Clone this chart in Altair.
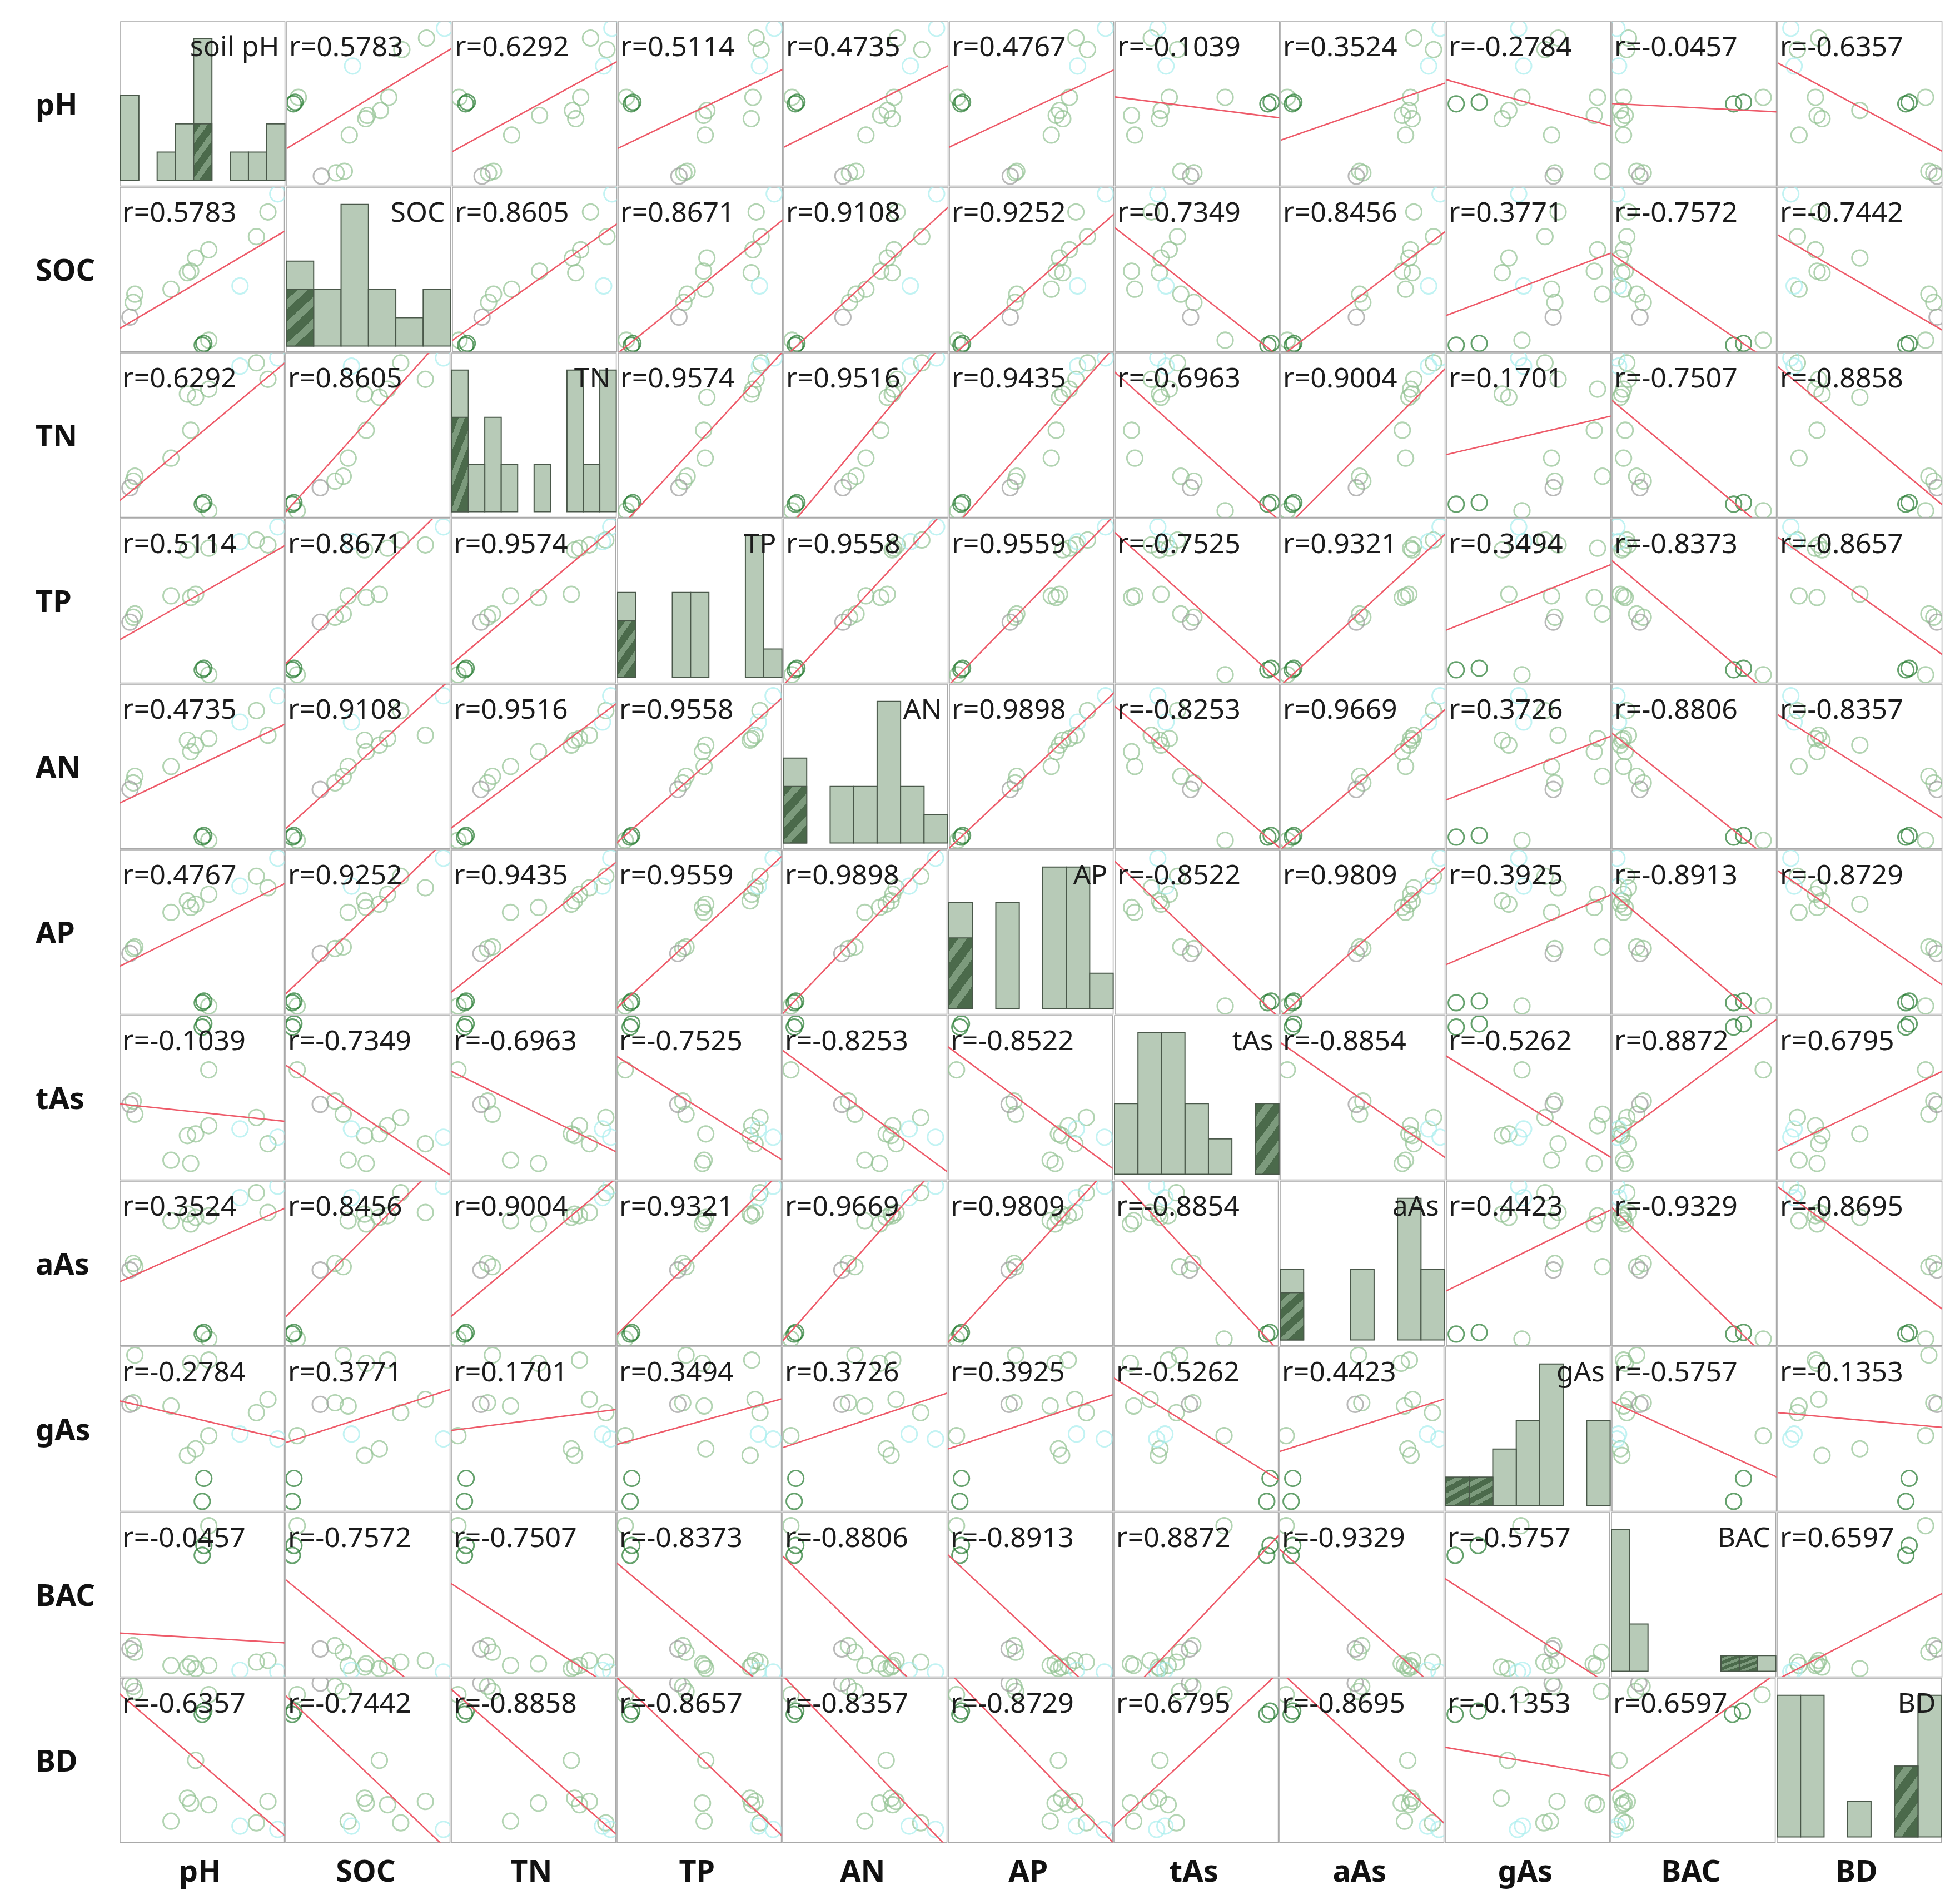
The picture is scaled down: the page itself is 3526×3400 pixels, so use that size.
import altair as alt
import pandas as pd

# ---------------- data (values read as fractions of each panel's axis range) ----------------
VARS = ["pH", "SOC", "TN", "TP", "AN", "AP", "tAs", "aAs", "gAs", "BAC", "BD"]
DIAG_LABELS = ["soil pH", "SOC", "TN", "TP", "AN", "AP", "tAs", "aAs", "gAs", "BAC", "BD"]
N_BINS = [9, 6, 10, 9, 7, 7, 7, 7, 7, 9, 7]

GROUP = ["sel", "sel", "normal", "normal", "normal", "grey", "normal", "normal",
         "normal", "normal", "normal", "cyan", "normal", "normal", "cyan"]
PH  = [0.50, 0.51, 0.54, 0.08, 0.09, 0.06, 0.31, 0.41, 0.43, 0.46, 0.54, 0.73, 0.83, 0.90, 0.96]
SOC = [0.04, 0.05, 0.07, 0.30, 0.35, 0.21, 0.38, 0.48, 0.49, 0.57, 0.62, 0.40, 0.70, 0.85, 0.96]
TN  = [0.08, 0.09, 0.04, 0.22, 0.25, 0.18, 0.36, 0.75, 0.53, 0.73, 0.78, 0.92, 0.94, 0.84, 0.97]
TP  = [0.08, 0.09, 0.05, 0.40, 0.42, 0.37, 0.53, 0.81, 0.52, 0.54, 0.82, 0.86, 0.87, 0.84, 0.95]
AN  = [0.07, 0.08, 0.05, 0.40, 0.44, 0.36, 0.50, 0.66, 0.59, 0.63, 0.67, 0.77, 0.84, 0.69, 0.93]
AP  = [0.07, 0.08, 0.05, 0.40, 0.41, 0.37, 0.62, 0.69, 0.65, 0.67, 0.73, 0.78, 0.84, 0.77, 0.95]
TAS = [0.93, 0.95, 0.67, 0.48, 0.40, 0.46, 0.12, 0.27, 0.10, 0.28, 0.33, 0.31, 0.38, 0.22, 0.26]
AAS = [0.07, 0.08, 0.04, 0.50, 0.48, 0.46, 0.76, 0.80, 0.74, 0.78, 0.79, 0.90, 0.93, 0.81, 0.97]
GAS = [0.06, 0.20, 0.46, 0.66, 0.95, 0.65, 0.64, 0.34, 0.90, 0.38, 0.92, 0.47, 0.60, 0.68, 0.44]
BAC = [0.74, 0.80, 0.92, 0.19, 0.15, 0.17, 0.07, 0.06, 0.08, 0.05, 0.07, 0.04, 0.09, 0.10, 0.03]
BD  = [0.78, 0.80, 0.90, 0.95, 0.92, 0.97, 0.13, 0.27, 0.24, 0.50, 0.23, 0.10, 0.12, 0.25, 0.08]

# correlation labels (upper triangle, row by row)
R_PH  = [0.5783, 0.6292, 0.5114, 0.4735, 0.4767, -0.1039, 0.3524, -0.2784, -0.0457, -0.6357]
R_SOC = [0.8605, 0.8671, 0.9108, 0.9252, -0.7349, 0.8456, 0.3771, -0.7572, -0.7442]
R_TN  = [0.9574, 0.9516, 0.9435, -0.6963, 0.9004, 0.1701, -0.7507, -0.8858]
R_TP  = [0.9558, 0.9559, -0.7525, 0.9321, 0.3494, -0.8373, -0.8657]
R_AN  = [0.9898, -0.8253, 0.9669, 0.3726, -0.8806, -0.8357]
R_AP  = [-0.8522, 0.9809, 0.3925, -0.8913, -0.8729]
R_TAS = [-0.8854, -0.5262, 0.8872, 0.6795]
R_AAS = [0.4423, -0.9329, -0.8695]
R_GAS = [-0.5757, -0.1353]
R_BAC = [0.6597]
R_UPPER = [R_PH, R_SOC, R_TN, R_TP, R_AN, R_AP, R_TAS, R_AAS, R_GAS, R_BAC]

# ---------------- tables ----------------
df = pd.DataFrame({"pH": PH, "SOC": SOC, "TN": TN, "TP": TP, "AN": AN, "AP": AP,
                   "tAs": TAS, "aAs": AAS, "gAs": GAS, "BAC": BAC, "BD": BD})
df["group"] = GROUP
df["sel"] = [1 if g == "sel" else 0 for g in GROUP]
RANK = {"normal": 0, "cyan": 1, "grey": 2, "sel": 3}
df["rank"] = [RANK[g] for g in GROUP]
df = df.sort_values("rank", kind="stable").reset_index(drop=True)

rrows = []
for i, row in enumerate(R_UPPER):
    for k, val in enumerate(row):
        j = i + 1 + k
        lab = "r=%.4f" % val
        rrows.append({"row": VARS[i], "col": VARS[j], "label": lab})
        rrows.append({"row": VARS[j], "col": VARS[i], "label": lab})
rdf = pd.DataFrame(rrows)
labdf = pd.DataFrame({"var": VARS, "label": DIAG_LABELS})

# ---------------- styling ----------------
SW = 1.6                # frame stroke width
W = H = 297.2 - SW      # panel size so that the pitch is ~297 px
LABEL_W = 206 - SW
FONT = "Noto Sans"
sc = alt.Scale(domain=[0, 1], nice=False, zero=False)
GROUPS = ["normal", "cyan", "grey", "sel"]
COLORS = ["#92c292", "#a8eeee", "#9c9c9c", "#237a2e"]
WIDTHS = [2.9, 2.9, 2.9, 4.4]
LIGHT = "#b7cab7"
OUTLINE = "#4a584a"
D, L = "#4b6a4b", "#7c9a7c"
offs = [0.0, 0.16, 0.30, 0.48, 0.62, 0.80, 0.94, 1.0]
stops = []
for k in range(len(offs) - 1):
    c = D if k % 2 == 0 else L
    stops.append(alt.GradientStop(color=c, offset=offs[k]))
    stops.append(alt.GradientStop(color=c, offset=offs[k + 1]))
HATCH = alt.LinearGradient(gradient="linear", stops=stops, x1=0, y1=0, x2=0.45, y2=1)


def scatter(yv, xv):
    base = alt.Chart(df)
    pts = base.mark_point(filled=False, clip=True, size=800).encode(
        x=alt.X(f"{xv}:Q", scale=sc, axis=None),
        y=alt.Y(f"{yv}:Q", scale=sc, axis=None),
        color=alt.Color("group:N", scale=alt.Scale(domain=GROUPS, range=COLORS), legend=None),
        strokeWidth=alt.StrokeWidth("group:N", scale=alt.Scale(domain=GROUPS, range=WIDTHS), legend=None),
    )
    line = base.transform_regression(xv, yv, extent=[-0.5, 1.5]).mark_line(
        clip=True, color="#ee5a69", strokeWidth=2.6
    ).encode(
        x=alt.X(f"{xv}:Q", scale=sc, axis=None),
        y=alt.Y(f"{yv}:Q", scale=sc, axis=None),
    )
    txt = alt.Chart(rdf).transform_filter(
        (alt.datum.row == yv) & (alt.datum.col == xv)
    ).mark_text(align="left", baseline="alphabetic", fontSize=50, font=FONT, color="#1c1c1c").encode(
        text="label:N", x=alt.value(4), y=alt.value(62)
    )
    return alt.layer(pts, line, txt).properties(width=W, height=H)


def histogram(v, n):
    h = alt.Chart(df).transform_calculate(
        b=f"min(floor(datum['{v}'] * {n}), {n - 1})"
    ).transform_aggregate(
        cnt="count()", nsel="sum(sel)", groupby=["b"]
    ).transform_joinaggregate(
        maxc="max(cnt)"
    ).transform_calculate(
        x0=f"datum.b / {n}",
        x1=f"(datum.b + 1) / {n}",
        y0="0.034",
        yt="0.034 + datum.cnt / datum.maxc * 0.862",
        ys="0.034 + datum.nsel / datum.maxc * 0.862",
    )
    full = h.mark_bar(fill=LIGHT, stroke=OUTLINE, strokeWidth=2).encode(
        x=alt.X("x0:Q", scale=sc, axis=None), x2="x1:Q",
        y=alt.Y("yt:Q", scale=sc, axis=None), y2="y0:Q",
    )
    hatch = h.transform_filter("datum.nsel > 0").mark_bar(
        fill=HATCH, stroke=OUTLINE, strokeWidth=2
    ).encode(
        x=alt.X("x0:Q", scale=sc, axis=None), x2="x1:Q",
        y=alt.Y("ys:Q", scale=sc, axis=None), y2="y0:Q",
    )
    lab = alt.Chart(labdf).transform_filter(alt.datum.var == v).mark_text(
        align="right", baseline="alphabetic", fontSize=50, font=FONT, color="#1c1c1c"
    ).encode(text="label:N", x=alt.value(W - 10), y=alt.value(62))
    return alt.layer(full, hatch, lab).properties(width=W, height=H)


NOFRAME = alt.ViewBackground(stroke="transparent")


def row_label(v):
    return alt.Chart(labdf).transform_filter(alt.datum.var == v).mark_text(
        align="left", baseline="alphabetic", fontSize=54, fontWeight="bold", font=FONT, color="#111111"
    ).encode(text="var:N", x=alt.value(55), y=alt.value(168)).properties(
        width=LABEL_W, height=H, view=NOFRAME
    )


def col_label(v):
    return alt.Chart(labdf).transform_filter(alt.datum.var == v).mark_text(
        align="center", baseline="alphabetic", fontSize=54, fontWeight="bold", font=FONT, color="#111111"
    ).encode(text="var:N", x=alt.value(W / 2 - 4), y=alt.value(62)).properties(
        width=W, height=88, view=NOFRAME
    )


rows = []
for i, yv in enumerate(VARS):
    cells = [row_label(yv)]
    for j, xv in enumerate(VARS):
        if i == j:
            cells.append(histogram(yv, N_BINS[i]))
        else:
            cells.append(scatter(yv, xv))
    rows.append(alt.hconcat(*cells, spacing=0))

spacer = alt.Chart(labdf).mark_text().encode(text=alt.value(""), x=alt.value(0), y=alt.value(0)).properties(
    width=LABEL_W, height=88, view=NOFRAME
)
rows.append(alt.hconcat(spacer, *[col_label(v) for v in VARS], spacing=0))

chart = alt.vconcat(*rows, spacing=0).properties(
    padding={"left": 0, "top": 30, "right": 0, "bottom": 0},
    background="white",
).configure_view(stroke="#a9a9a9", strokeWidth=SW)

chart.save("out.html", embed_options={"renderer": "svg", "actions": False})
